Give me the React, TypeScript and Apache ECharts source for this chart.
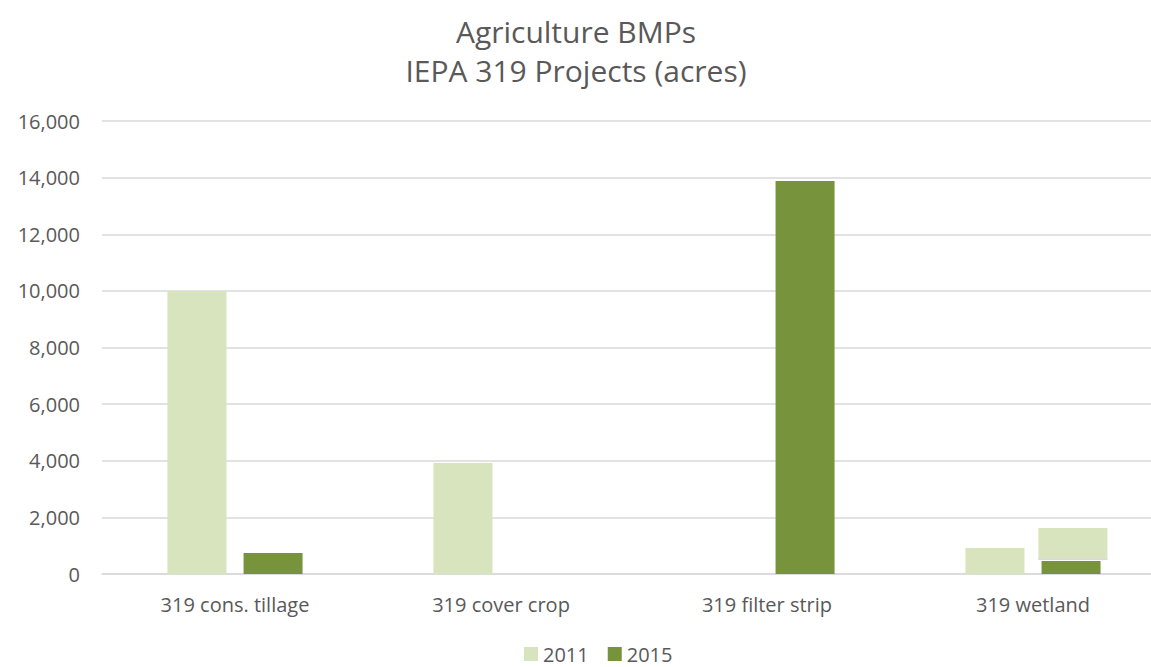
import React, { useEffect, useRef } from "react";
import * as echarts from "echarts";

const categories = ["319 cons. tillage", "319 cover crop", "319 filter strip", "319 wetland"];
const values2011 = [10000, 3920, 0, 920];
const values2015 = [740, 0, 13880, 460];
// floating light box seen above the 2015 wetland bar: [categoryIndex, low, high]
const overlayBoxes = [[3, 495, 1625]];
const yTicks = { min: 0, max: 16000, interval: 2000 };
const titleLines = ["Agriculture BMPs", "IEPA 319 Projects (acres)"];

const LIGHT = "#D7E4BD";
const DARK = "#77933C";
const TEXT = "#595959";
const FONT = "Open Sans";

export default function App() {
  const ref = useRef<HTMLDivElement>(null);
  useEffect(() => {
    const chart = echarts.init(ref.current!, null, { renderer: "svg" });
    const titleStyle = { fontFamily: FONT, fontSize: 30, fontWeight: "normal", color: TEXT, lineHeight: 34 };
    chart.setOption({
      animation: false,
      textStyle: { fontFamily: FONT },
      title: [
        { text: titleLines[0], left: 576, textAlign: "center", top: 14, padding: 0, textStyle: titleStyle },
        { text: titleLines[1], left: 576, textAlign: "center", top: 53, padding: 0, textStyle: titleStyle },
      ],
      legend: {
        data: ["2011", "2015"],
        top: 644,
        left: 524,
        padding: 0,
        itemWidth: 14,
        itemHeight: 14,
        itemGap: 19,
        icon: "rect",
        textStyle: { fontFamily: FONT, fontSize: 20, color: TEXT, lineHeight: 20 },
      },
      grid: { left: 102, right: 0, top: 121, bottom: 93, containLabel: false },
      xAxis: {
        type: "category",
        data: categories,
        axisLine: { lineStyle: { color: "#D9D9D9", width: 1.5 } },
        axisTick: { show: false },
        axisLabel: { fontFamily: FONT, fontSize: 20, color: TEXT, margin: 20 },
      },
      yAxis: {
        type: "value",
        min: yTicks.min,
        max: yTicks.max,
        interval: yTicks.interval,
        axisLine: { show: false },
        axisTick: { show: false },
        splitLine: { lineStyle: { color: "#D9D9D9", width: 1.5 } },
        axisLabel: {
          fontFamily: FONT,
          fontSize: 20,
          color: TEXT,
          margin: 22,
          formatter: (v: number) => v.toLocaleString("en-US"),
        },
      },
      series: [
        { name: "2011", type: "bar", data: values2011, barWidth: 59, barGap: "29%", itemStyle: { color: LIGHT } },
        { name: "2015", type: "bar", data: values2015, barWidth: 59, barGap: "29%", itemStyle: { color: DARK } },
        {
          name: "overlay",
          type: "custom",
          data: overlayBoxes,
          z: 3,
          renderItem: (params: any, api: any) => {
            const idx = api.value(0);
            const low = api.coord([idx, api.value(1)]);
            const high = api.coord([idx, api.value(2)]);
            const catW = api.size([1, 0])[0];
            const cx = low[0] + catW * 0.15;
            const w = 69;
            return {
              type: "group",
              children: [
                {
                  type: "rect",
                  shape: { x: cx - w / 2, y: high[1], width: w, height: low[1] - high[1] },
                  style: { fill: LIGHT },
                },
                {
                  type: "rect",
                  shape: { x: cx - w / 2, y: low[1] - 1.5, width: w, height: 1.5 },
                  style: { fill: "#D9D9D9" },
                },
              ],
            };
          },
        },
      ],
    });
    return () => chart.dispose();
  }, []);
  return (
    <div style={{ position: "absolute", left: 0, top: 0, width: 1151, height: 667, overflow: "hidden" }}>
      <div ref={ref} style={{ width: 1166, height: 667 }} />
    </div>
  );
}
